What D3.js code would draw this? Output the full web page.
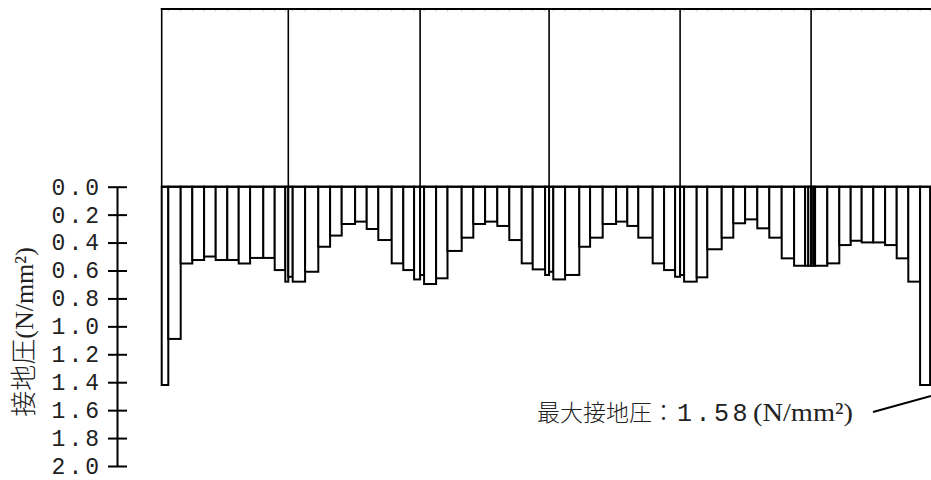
<!DOCTYPE html>
<html>
<head>
<meta charset="utf-8">
<script src="https://cdn.jsdelivr.net/npm/d3@7"></script>
<style>
  body { margin: 0; background: #fff; }
  svg { display: block; }
</style>
</head>
<body>
<script>
'use strict'

const width = 931
const height = 480

// element boundaries along the slab (m)
const nodeX = [
  0, 0.33, 0.95, 1.53, 2.12, 2.70, 3.28, 3.85, 4.42, 5.08, 5.65, 6.18,
  6.33, 6.55, 7.17, 7.83, 8.42, 9.00, 9.67, 10.25, 10.83, 11.50, 12.08, 12.62,
  12.92, 13.12, 13.72, 14.29, 15.00, 15.58, 16.17, 16.78, 17.38, 18.00, 18.55, 19.17,
  19.37, 19.58, 20.17, 20.88, 21.42, 22.05, 22.72, 23.28, 23.83, 24.55, 25.12, 25.67,
  25.92, 26.12, 26.75, 27.28, 28.00, 28.58, 29.17, 29.78, 30.38, 31.00, 31.62, 32.17, 32.33,
  32.47, 32.58, 32.67, 33.28, 33.88, 34.45, 35.00, 35.58, 36.17, 36.75, 37.33, 37.92, 38.42
]

// contact pressure of each element (N/mm2)
const pressure = [
  1.42, 1.09, 0.55, 0.525, 0.50, 0.525, 0.525, 0.55, 0.51, 0.51, 0.597, 0.68,
  0.645, 0.68, 0.609, 0.43, 0.35, 0.267, 0.25, 0.303, 0.382, 0.549, 0.597, 0.664,
  0.632, 0.697, 0.656, 0.46, 0.365, 0.267, 0.25, 0.281, 0.382, 0.549, 0.592, 0.632,
  0.609, 0.664, 0.632, 0.43, 0.365, 0.267, 0.25, 0.281, 0.365, 0.549, 0.597, 0.645,
  0.632, 0.68, 0.649, 0.448, 0.365, 0.262, 0.234, 0.298, 0.365, 0.513, 0.566, 0.566, 0.566,
  0.566, 0.566, 0.566, 0.549, 0.418, 0.387, 0.399, 0.399, 0.418, 0.513, 0.68, 1.42
]

const columnX = [0, 6.33, 12.92, 19.37, 25.92, 32.47]
const yTicks = [0, 0.2, 0.4, 0.6, 0.8, 1.0, 1.2, 1.4, 1.6, 1.8, 2.0]
const maxPressure = 1.58

const jpFont = '"Noto Sans CJK JP", sans-serif'
const numFont = '"Liberation Mono", "DejaVu Sans Mono", monospace'
const serifFont = '"Liberation Serif", "DejaVu Serif", serif'

const x = d3.scaleLinear().domain([0, 38.5]).range([161.7, 931.7])
const y = d3.scaleLinear().domain([0, 2]).range([186.7, 466])
const frameTop = 9

const svg = d3.select('body').append('svg')
  .attr('width', width)
  .attr('height', height)

// frame above the slab
const frame = svg.append('g')
  .attr('stroke', '#000')

frame.append('line')
  .attr('x1', x(0) - 1)
  .attr('x2', width)
  .attr('y1', frameTop)
  .attr('y2', frameTop)
  .attr('stroke-width', 2)

frame.selectAll('line.mark')
  .data(nodeX.slice(1))
  .enter()
  .append('line')
  .attr('class', 'mark')
  .attr('x1', d => x(d))
  .attr('x2', d => x(d))
  .attr('y1', frameTop + 1)
  .attr('y2', frameTop + 2.5)
  .attr('stroke', '#ccc')
  .attr('stroke-width', 1)

frame.selectAll('line.col')
  .data(columnX)
  .enter()
  .append('line')
  .attr('class', 'col')
  .attr('x1', d => x(d))
  .attr('x2', d => x(d))
  .attr('y1', frameTop)
  .attr('y2', y(0))
  .attr('stroke-width', 1.6)

// pressure bars
const bars = pressure.map(function (p, i) {
  return { x0: nodeX[i], x1: nodeX[i + 1], p: p }
})

svg.append('g')
  .selectAll('rect')
  .data(bars)
  .enter()
  .append('rect')
  .attr('x', d => x(d.x0))
  .attr('width', d => x(d.x1) - x(d.x0))
  .attr('y', y(0))
  .attr('height', d => y(d.p) - y(0))
  .attr('fill', '#fff')
  .attr('stroke', '#000')
  .attr('stroke-width', 2)

svg.append('line')
  .attr('x1', x(0))
  .attr('x2', width)
  .attr('y1', y(0))
  .attr('y2', y(0))
  .attr('stroke', '#000')
  .attr('stroke-width', 2)

// y axis, ticks cross the line
const axisX = 117
const yAxis = svg.append('g')
  .attr('transform', 'translate(' + axisX + ',0)')
  .call(d3.axisLeft(y)
    .tickValues(yTicks)
    .tickFormat(d3.format('.1f'))
    .tickSize(9)
    .tickSizeOuter(0)
    .tickPadding(6))

yAxis.select('.domain').attr('stroke-width', 2)
yAxis.selectAll('.tick line')
  .attr('x1', 10)
  .attr('stroke-width', 2)
yAxis.selectAll('.tick text')
  .attr('font-family', numFont)
  .attr('font-size', 23)
  .attr('letter-spacing', 3)
  .attr('fill', '#222')

const title = svg.append('text')
  .attr('transform', 'translate(33,332) rotate(-90)')
  .attr('text-anchor', 'middle')
  .attr('fill', '#222')
title.append('tspan')
  .attr('font-family', jpFont)
  .attr('font-weight', 300)
  .attr('font-size', 26)
  .text('接地圧')
title.append('tspan')
  .attr('font-family', serifFont)
  .attr('font-size', 26)
  .text('(N/mm²)')

// max pressure note
const note = svg.append('g')
  .attr('fill', '#222')
note.append('text')
  .attr('x', 537)
  .attr('y', 421)
  .attr('font-family', jpFont)
  .attr('font-weight', 300)
  .attr('font-size', 23)
  .text('最大接地圧：')
note.append('text')
  .attr('x', 677)
  .attr('y', 421)
  .attr('font-family', numFont)
  .attr('font-size', 25)
  .attr('letter-spacing', 3.5)
  .text(maxPressure.toFixed(2))
note.append('text')
  .attr('x', 753)
  .attr('y', 421)
  .attr('font-family', serifFont)
  .attr('font-size', 26)
  .attr('textLength', 100)
  .attr('lengthAdjust', 'spacingAndGlyphs')
  .text('(N/mm²)')

svg.append('line')
  .attr('x1', 873)
  .attr('y1', 412)
  .attr('x2', width)
  .attr('y2', 396)
  .attr('stroke', '#000')
  .attr('stroke-width', 2)
</script>
</body>
</html>
